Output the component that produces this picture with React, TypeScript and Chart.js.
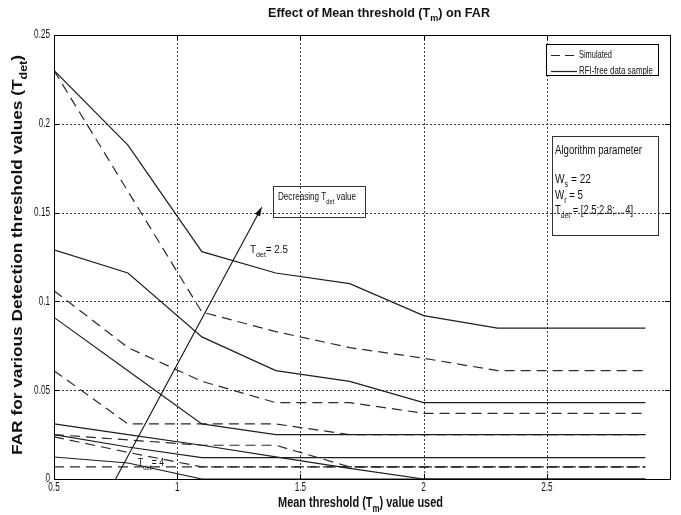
import React, { useEffect, useRef } from 'react';
import { Chart, registerables } from 'chart.js';

Chart.register(...registerables);

// ---- Data ----
const meanThresholds = [0.5, 0.8, 1.1, 1.4, 1.7, 2.0, 2.3, 2.6, 2.9];
const detThresholds = ['2.5', '2.8', '3.1', '3.4', '3.7', '4'];

// RFI-free data sample (solid)
const rfiFreeT25 = [0.230, 0.188, 0.128, 0.116, 0.110, 0.092, 0.085, 0.085, 0.085];
const rfiFreeT28 = [0.129, 0.116, 0.080, 0.061, 0.055, 0.043, 0.043, 0.043, 0.043];
const rfiFreeT31 = [0.091, 0.061, 0.031, 0.025, 0.025, 0.025, 0.025, 0.025, 0.025];
const rfiFreeT34 = [0.031, 0.025, 0.019, 0.0125, 0.006, 0.0, 0.0, 0.0, 0.0];
const rfiFreeT37 = [0.025, 0.018, 0.012, 0.012, 0.012, 0.012, 0.012, 0.012, 0.012];
const rfiFreeT40 = [0.0124, 0.009, 0.0, 0.0, 0.0, 0.0, 0.0, 0.0, 0.0];

// Simulated (dashed)
const simulatedT25 = [0.230, 0.162, 0.094, 0.083, 0.074, 0.068, 0.061, 0.061, 0.061];
const simulatedT28 = [0.106, 0.074, 0.055, 0.043, 0.043, 0.037, 0.037, 0.037, 0.037];
const simulatedT31 = [0.061, 0.031, 0.031, 0.031, 0.025, 0.025, 0.025, 0.025, 0.025];
const simulatedT34 = [0.025, 0.022, 0.019, 0.019, 0.0068, 0.0068, 0.0068, 0.0068, 0.0068];
const simulatedT37 = [0.0237, 0.015, 0.0068, 0.0068, 0.0068, 0.0068, 0.0068, 0.0068, 0.0068];
const simulatedT40 = [0.0068, 0.0068, 0.0068, 0.0068, 0.0068, 0.0068, 0.0068, 0.0068, 0.0068];

const xTickValues = [0.5, 1, 1.5, 2, 2.5];
const xTickLabels = ['0.5', '1', '1.5', '2', '2.5'];
const yTickValues = [0, 0.05, 0.1, 0.15, 0.2, 0.25];
const yTickLabels = ['0', '0.05', '0.1', '0.15', '0.2', '0.25'];
const legendLabels = ['Simulated', 'RFI-free data sample'];

const rfiFreeSeries = [rfiFreeT25, rfiFreeT28, rfiFreeT31, rfiFreeT34, rfiFreeT37, rfiFreeT40];
const simulatedSeries = [simulatedT25, simulatedT28, simulatedT31, simulatedT34, simulatedT37, simulatedT40];

const FONT = '"Liberation Sans", Arial, Helvetica, sans-serif';
const INK = '#111';

type Part = [string, boolean?];

function drawRich(
  ctx: CanvasRenderingContext2D,
  parts: Part[],
  x: number,
  y: number,
  size: number,
  opts: { bold?: boolean; align?: 'left' | 'center' | 'right'; width?: number; sx?: number } = {}
) {
  const bold = opts.bold ? 'bold ' : '';
  const subSize = size * 0.72;
  const widths = parts.map(([t, sub]) => {
    ctx.font = `${bold}${sub ? subSize : size}px ${FONT}`;
    return ctx.measureText(t).width;
  });
  const natural = widths.reduce((a, b) => a + b, 0);
  const scale = opts.width ? opts.width / natural : opts.sx ?? 0.82;
  const total = natural * scale;
  const align = opts.align ?? 'left';
  const startX = align === 'left' ? x : align === 'center' ? x - total / 2 : x - total;
  ctx.save();
  ctx.translate(startX, y);
  ctx.scale(scale, 1);
  ctx.textAlign = 'left';
  ctx.textBaseline = 'middle';
  ctx.fillStyle = INK;
  let cx = 0;
  parts.forEach(([t, sub], i) => {
    ctx.font = `${bold}${sub ? subSize : size}px ${FONT}`;
    ctx.fillText(t, cx, sub ? size * 0.42 : 0);
    cx += widths[i];
  });
  ctx.restore();
}

const decorPlugin = {
  id: 'matlabDecor',
  beforeDatasetsDraw(chart: any) {
    const { ctx, chartArea: a, scales } = chart;
    const xs = scales.x;
    const ys = scales.y;
    ctx.save();
    ctx.strokeStyle = '#3a3a3a';
    ctx.lineWidth = 1;
    ctx.setLineDash([2, 2]);
    xTickValues.forEach((v) => {
      const px = Math.round(xs.getPixelForValue(v)) + 0.5;
      if (px <= a.left + 1 || px >= a.right - 1) return;
      ctx.beginPath();
      ctx.moveTo(px, a.top);
      ctx.lineTo(px, a.bottom);
      ctx.stroke();
    });
    yTickValues.forEach((v) => {
      const py = Math.round(ys.getPixelForValue(v)) + 0.5;
      if (py <= a.top + 1 || py >= a.bottom - 1) return;
      ctx.beginPath();
      ctx.moveTo(a.left, py);
      ctx.lineTo(a.right, py);
      ctx.stroke();
    });
    ctx.restore();
  },
  afterDraw(chart: any) {
    const { ctx, chartArea: a, scales } = chart;
    const xs = scales.x;
    const ys = scales.y;
    ctx.save();
    // axes box
    ctx.setLineDash([]);
    ctx.strokeStyle = '#000';
    ctx.lineWidth = 1;
    ctx.strokeRect(Math.round(a.left) + 0.5, Math.round(a.top) + 0.5, Math.round(a.right - a.left), Math.round(a.bottom - a.top));
    // inward tick marks
    ctx.beginPath();
    xTickValues.forEach((v) => {
      const px = Math.round(xs.getPixelForValue(v)) + 0.5;
      ctx.moveTo(px, a.bottom);
      ctx.lineTo(px, a.bottom - 5);
      ctx.moveTo(px, a.top);
      ctx.lineTo(px, a.top + 5);
    });
    yTickValues.forEach((v) => {
      const py = Math.round(ys.getPixelForValue(v)) + 0.5;
      ctx.moveTo(a.left, py);
      ctx.lineTo(a.left + 5, py);
      ctx.moveTo(a.right, py);
      ctx.lineTo(a.right - 5, py);
    });
    ctx.stroke();

    // tick labels
    xTickValues.forEach((v, i) => {
      drawRich(ctx, [[xTickLabels[i]]], xs.getPixelForValue(v), a.bottom + 9, 12, { align: 'center', sx: 0.68 });
    });
    yTickValues.forEach((v, i) => {
      drawRich(ctx, [[yTickLabels[i]]], a.left - 4, ys.getPixelForValue(v), 12, { align: 'right', sx: 0.68 });
    });

    // title
    drawRich(ctx, [['Effect of Mean threshold (T'], ['m', true], [') on FAR']], 268, 13, 13, { bold: true, width: 222 });
    // x-axis title
    drawRich(ctx, [['Mean threshold (T'], ['m', true], [') value used']], 278, 503, 14, { bold: true, width: 165 });
    // y-axis title
    ctx.save();
    ctx.translate(18, 255);
    ctx.rotate(-Math.PI / 2);
    drawRich(ctx, [['FAR for various Detection threshold values (T'], ['det', true], [')']], 0, 0, 14, { bold: true, align: 'center', width: 400 });
    ctx.restore();

    // legend
    ctx.fillStyle = '#fff';
    ctx.fillRect(546.5, 44.5, 112, 31);
    ctx.strokeStyle = '#000';
    ctx.strokeRect(546.5, 44.5, 112, 31);
    ctx.strokeStyle = '#222';
    ctx.lineWidth = 1.2;
    ctx.setLineDash([9, 5]);
    ctx.beginPath();
    ctx.moveTo(551, 55.5);
    ctx.lineTo(577, 55.5);
    ctx.stroke();
    ctx.setLineDash([]);
    ctx.beginPath();
    ctx.moveTo(551, 71.5);
    ctx.lineTo(577, 71.5);
    ctx.stroke();
    ctx.lineWidth = 1;
    drawRich(ctx, [[legendLabels[0]]], 579, 55, 11, { width: 33 });
    drawRich(ctx, [[legendLabels[1]]], 579, 71, 11, { width: 74 });

    // algorithm parameter box
    ctx.strokeStyle = '#333';
    ctx.strokeRect(552.5, 136.5, 106, 99);
    drawRich(ctx, [['Algorithm parameter']], 555, 151, 12, { width: 87 });
    drawRich(ctx, [['W'], ['s', true], [' = 22']], 555, 180, 12, { width: 36 });
    drawRich(ctx, [['W'], ['r', true], [' = 5']], 555, 196, 12, { width: 28 });
    drawRich(ctx, [['T'], ['det', true], [' = [2.5;2.8;....4]']], 555, 211, 12, { width: 78 });

    // "Decreasing" box
    ctx.strokeRect(273.5, 186.5, 92, 31);
    drawRich(ctx, [['Decreasing T'], ['det', true], [' value']], 278, 197, 11, { width: 78 });

    // arrow (data coordinates)
    const x0 = xs.getPixelForValue(0.75);
    const y0 = ys.getPixelForValue(0);
    const x1 = xs.getPixelForValue(1.343);
    const y1 = ys.getPixelForValue(0.153);
    ctx.strokeStyle = '#111';
    ctx.lineWidth = 1.1;
    ctx.beginPath();
    ctx.moveTo(x0, y0);
    ctx.lineTo(x1, y1);
    ctx.stroke();
    const ang = Math.atan2(y1 - y0, x1 - x0);
    const hl = 9;
    const hw = 3;
    ctx.fillStyle = '#111';
    ctx.beginPath();
    ctx.moveTo(x1, y1);
    ctx.lineTo(x1 - hl * Math.cos(ang) + hw * Math.sin(ang), y1 - hl * Math.sin(ang) - hw * Math.cos(ang));
    ctx.lineTo(x1 - hl * Math.cos(ang) - hw * Math.sin(ang), y1 - hl * Math.sin(ang) + hw * Math.cos(ang));
    ctx.closePath();
    ctx.fill();

    // Tdet labels
    drawRich(ctx, [['T'], ['det', true], ['= ' + detThresholds[0]]], 250, 250, 11, { width: 38 });
    drawRich(ctx, [['T'], ['det', true], ['= ' + detThresholds[5]]], 138, 463, 11, { width: 26 });

    ctx.restore();
  },
};

function buildDatasets() {
  const solid = rfiFreeSeries.map((s, i) => ({
    label: `RFI-free T_det=${detThresholds[i]}`,
    data: meanThresholds.map((x, j) => ({ x, y: s[j] })),
    borderColor: '#1e1e1e',
    borderWidth: 1.2,
    pointRadius: 0,
    tension: 0,
    fill: false,
  }));
  const dashed = simulatedSeries.map((s, i) => ({
    label: `Simulated T_det=${detThresholds[i]}`,
    data: meanThresholds.map((x, j) => ({ x, y: s[j] })),
    borderColor: '#2a2a2a',
    borderWidth: 1.2,
    borderDash: [10, 6],
    pointRadius: 0,
    tension: 0,
    fill: false,
  }));
  return [...solid, ...dashed];
}

export default function App() {
  const ref = useRef<HTMLCanvasElement>(null);
  useEffect(() => {
    const canvas = ref.current;
    if (!canvas) return;
    const chart = new Chart(canvas, {
      type: 'line',
      data: { datasets: buildDatasets() as any },
      options: {
        responsive: false,
        maintainAspectRatio: false,
        animation: false,
        devicePixelRatio: 1,
        layout: { padding: { top: 35, right: 11, left: 0, bottom: 0 } },
        plugins: {
          legend: { display: false },
          tooltip: { enabled: false },
          title: { display: false },
        },
        scales: {
          x: {
            type: 'linear',
            min: 0.5,
            max: 3.0,
            afterBuildTicks: (s: any) => {
              s.ticks = xTickValues.map((v) => ({ value: v }));
            },
            afterFit: (s: any) => {
              s.height = 36;
            },
            ticks: { display: false },
            grid: { display: false },
            border: { display: false },
          },
          y: {
            type: 'linear',
            min: 0,
            max: 0.25,
            afterBuildTicks: (s: any) => {
              s.ticks = yTickValues.map((v) => ({ value: v }));
            },
            afterFit: (s: any) => {
              s.width = 54;
            },
            ticks: { display: false },
            grid: { display: false },
            border: { display: false },
          },
        },
      } as any,
      plugins: [decorPlugin],
    });
    return () => chart.destroy();
  }, []);
  return (
    <div style={{ position: 'fixed', left: 0, top: 0, width: 681, height: 515, background: '#fff' }}>
      <canvas ref={ref} width={681} height={515} style={{ display: 'block', width: 681, height: 515 }} />
    </div>
  );
}
